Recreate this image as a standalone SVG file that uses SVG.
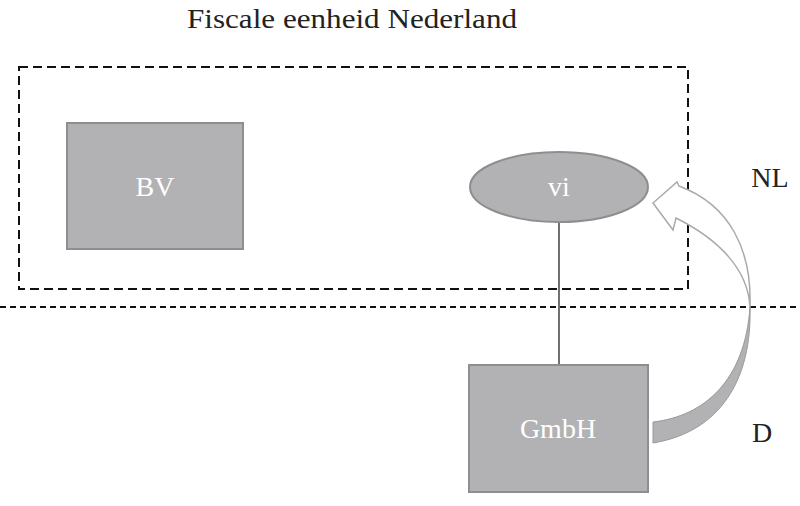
<svg xmlns="http://www.w3.org/2000/svg" width="800" height="506" viewBox="0 0 800 506">
<style>
.n{fill:#b2b2b4;stroke:#8e8e90;stroke-width:2}
.w{font-family:"Liberation Serif",serif;font-size:28px;fill:#fff;text-anchor:middle}
.t{font-family:"Liberation Serif",serif;font-size:28px;fill:#222;text-anchor:middle}
</style>
<rect width="800" height="506" fill="#fff"/>
<text class="t" x="352" y="28" textLength="330" lengthAdjust="spacingAndGlyphs">Fiscale eenheid Nederland</text>
<text class="t" x="770" y="187">NL</text>
<text class="t" x="762" y="442">D</text>
<g id="connectors">
<rect x="19" y="67" width="669" height="222" fill="none" stroke="#111" stroke-width="2" stroke-dasharray="9,5"/>
<line x1="0" y1="307" x2="800" y2="307" stroke="#111" stroke-width="2" stroke-dasharray="6,4"/>
<line x1="559" y1="222" x2="559" y2="365" stroke="#111" stroke-width="1.2"/>
<path d="M653,422 C705,416 745,380 750,307 C752,380 720,432 653,443 Z" fill="#b2b2b4" stroke="#999" stroke-width="1"/>
<path d="M750,307 C752,250 730,205 679,186 L677,182 L653,203 L673,230 L676,218 C720,240 748,270 750,307 Z" fill="#fff" stroke="#aaa" stroke-width="1.5"/>
</g>
<g id="bv"><rect class="n" x="67" y="123" width="176" height="126"/><text class="w" x="155" y="196">BV</text></g>
<g id="vi"><ellipse class="n" cx="559" cy="187" rx="89" ry="35"/><text class="w" x="559" y="196">vi</text></g>
<g id="gmbh"><rect class="n" x="469" y="365" width="179" height="127"/><text class="w" x="558" y="438">GmbH</text></g>
</svg>
